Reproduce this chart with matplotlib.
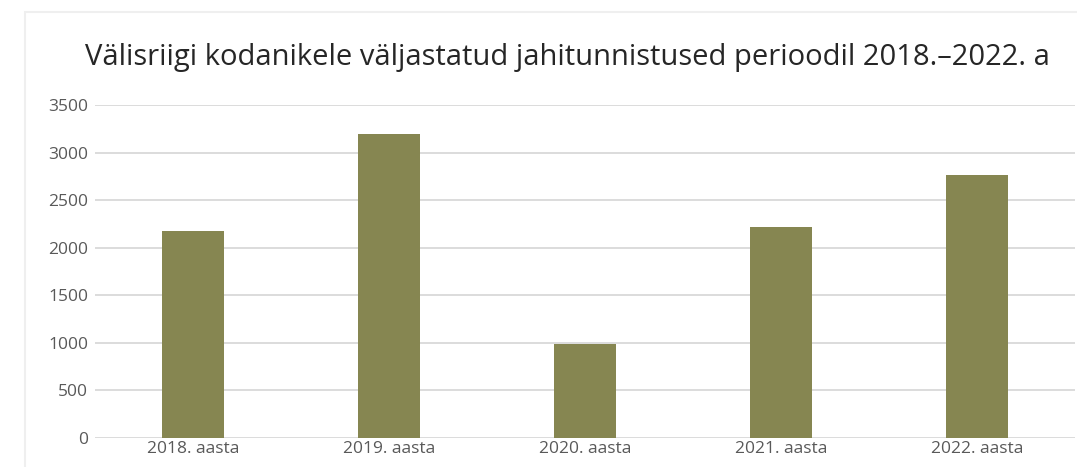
import matplotlib
matplotlib.use("Agg")
import matplotlib.pyplot as plt
from matplotlib.patches import Rectangle

years = ["2018. aasta", "2019. aasta", "2020. aasta", "2021. aasta", "2022. aasta"]
values = [2175, 3195, 990, 2220, 2763]
yticks = [0, 500, 1000, 1500, 2000, 2500, 3000, 3500]
title = "Välisriigi kodanikele väljastatud jahitunnistused perioodil 2018.–2022. a"

plt.rcParams['font.family'] = ['Open Sans', 'DejaVu Sans']

W, H = 1077, 467
fig = plt.figure(figsize=(W / 100, H / 100), dpi=100)

# light chart-area border (continues past the right and bottom edges)
fig.patches.append(Rectangle((25 / W, -0.1), 1.2, 1 - 12 / H + 0.1,
                             transform=fig.transFigure, fill=False,
                             edgecolor='#efefef', linewidth=1.5))

ax = fig.add_axes([95 / W, 1 - 438 / H, 980 / W, 333 / H])
ax.bar(range(len(years)), values, width=0.32, color='#868651', zorder=3)

ax.set_xlim(-0.5, len(years) - 0.5)
ax.set_ylim(0, 3500)
ax.set_yticks(yticks)
ax.set_xticks(range(len(years)))
ax.set_xticklabels(years)
ax.grid(axis='y', color='#d9d9d9', linewidth=1.3, zorder=0)
for s in ax.spines.values():
    s.set_visible(False)
ax.tick_params(length=0, labelsize=12.5, labelcolor='#595959')
ax.tick_params(axis='y', pad=5)
ax.tick_params(axis='x', pad=2)

fig.text(567 / W, 1 - 58 / H, title, ha='center', va='center',
         fontsize=21, color='#262626')

fig.savefig("out.png", dpi=100)
